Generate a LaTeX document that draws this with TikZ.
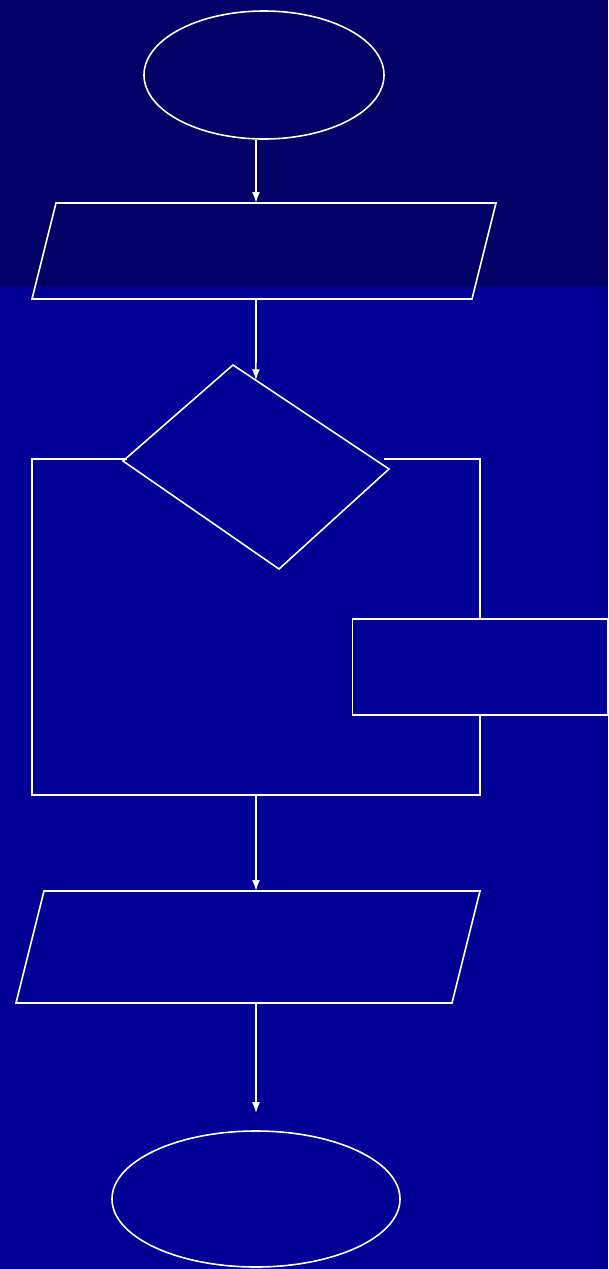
\documentclass[tikz,border=0pt]{standalone}
\usepackage{xcolor}
\usepackage{tikz}
\usetikzlibrary{shapes.geometric, arrows.meta, calc}
\definecolor{bandtop}{RGB}{0,0,102}
\definecolor{bandmain}{RGB}{0,0,150}
\tikzset{
    termblock/.style={ellipse, draw=white, line width=1.6pt, inner sep=0pt},
    procblock/.style={rectangle, draw=white, line width=1.6pt, inner sep=0pt},
    outline/.style={draw=white, line width=1.6pt, line join=miter},
    arrow/.style={line width=1.6pt, white, -{Latex[length=11pt,width=8pt]}},
    line/.style={line width=1.6pt, white}
}

\begin{document}
\begin{tikzpicture}[x=1pt, y=-1pt]
    % background bands
    \fill[bandmain] (0,0) rectangle (608,1269);
    \fill[bandtop] (0,0) rectangle (608,287);
    \useasboundingbox (0,0) rectangle (608,1269);

    \coordinate (spine) at (256,0);

    % terminals
    \node (start) [termblock, minimum width=240pt, minimum height=128pt] at (264,75) {};
    \node (stop) [termblock, minimum width=288pt, minimum height=136pt] at (256,1199) {};

    % input
    \coordinate (inA) at (56,203);  \coordinate (inB) at (496,203);
    \coordinate (inC) at (472,299); \coordinate (inD) at (32,299);
    \draw[outline] (inA) -- (inB) -- (inC) -- (inD) -- cycle;

    % decision
    \coordinate (dN) at (233,365); \coordinate (dE) at (389,469);
    \coordinate (dS) at (279,569); \coordinate (dW) at (123,461);
    \draw[outline] (dN) -- (dE) -- (dS) -- (dW) -- cycle;
    \coordinate (dhit) at ($(dN)!0.147!(dE)$);

    % loop frame and body
    \coordinate (loopL) at (32,459);  \coordinate (loopR) at (480,459);
    \coordinate (loopBL) at (32,795); \coordinate (loopBR) at (480,795);
    \node (body) [procblock, minimum width=255pt, minimum height=96pt] at (480,667) {};

    % output
    \coordinate (outA) at (44,891);   \coordinate (outB) at (480,891);
    \coordinate (outC) at (452,1003); \coordinate (outD) at (16,1003);
    \draw[outline] (outA) -- (outB) -- (outC) -- (outD) -- cycle;

    \draw [arrow] (start.south -| spine) -- (inA -| spine);
    \draw [arrow] (inD -| spine) -- (dhit);
    \draw [line] (127,459) -- (loopL) -- (loopBL) -- (loopBR) -- (body.south);
    \draw [line] (384,459) -- (loopR) -- (body.north);
    \draw [arrow] (loopBL -| spine) -- (outA -| spine);
    \draw [arrow, shorten >=17pt] (outD -| spine) -- (stop.north);
\end{tikzpicture}
\end{document}
